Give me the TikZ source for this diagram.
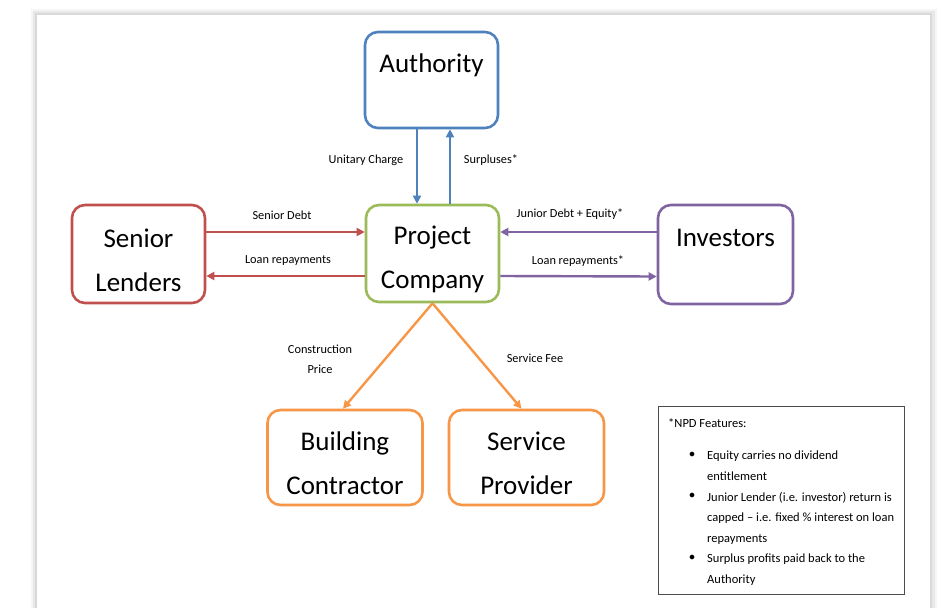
\documentclass[tikz,border=0pt]{standalone}
\usepackage{fontspec}
\setmainfont{Carlito}
\usetikzlibrary{arrows.meta}
\definecolor{cblue}{RGB}{79,129,189}
\definecolor{cred}{RGB}{192,80,77}
\definecolor{cgreen}{RGB}{155,187,89}
\definecolor{cpurple}{RGB}{128,100,162}
\definecolor{corange}{RGB}{247,150,70}
\tikzset{
  box/.style={draw, line width=2.6pt, rounded corners=13pt, fill=white, inner sep=0pt},
  bigtext/.style={inner sep=0pt, align=center, font=\fontsize{27}{44}\selectfont},
  lbl/.style={inner sep=0pt, font=\fontsize{12.3}{20}\selectfont, align=center},
  conn/.style={line width=2.4pt, -{Triangle[length=8pt,width=8pt]}},
  notetext/.style={inner sep=0pt, anchor=north west, align=left, font=\fontsize{12.5}{20.6}\selectfont}
}
\begin{document}
\begin{tikzpicture}[x=1pt,y=-1pt]
\useasboundingbox (0,0) rectangle (942,608);
% page sheet with soft shadow
\fill[white] (0,0) rectangle (942,608);
\fill[gray!8] (31,9) rectangle (937,608);
\fill[gray!18] (33,11) rectangle (935,608);
\fill[gray!30] (35,13) rectangle (932,608);
\fill[white] (37,15) rectangle (930,608);

% boxes
\node[box, draw=cblue, minimum width=133pt, minimum height=96pt] (auth) at (431.5,80) {};
\node[bigtext] (authtxt) at ([yshift=-35pt]auth.north) {Authority};
\node[box, draw=cgreen, minimum width=133pt, minimum height=97pt] (proj) at (432.5,253.5) {};
\node[bigtext] (projtxt) at ([yshift=-6pt]proj.center) {Project\\Company};
\node[box, draw=cred, minimum width=133pt, minimum height=98pt] (sl) at (138.5,254) {};
\node[bigtext] (sltxt) at ([yshift=-6pt]sl.center) {Senior\\Lenders};
\node[box, draw=cpurple, minimum width=135pt, minimum height=99pt] (inv) at (725.5,254.5) {};
\node[bigtext] (invtxt) at ([yshift=-34pt]inv.north) {Investors};
\node[box, draw=corange, minimum width=155pt, minimum height=95pt] (bc) at (345,457.5) {};
\node[bigtext] (bctxt) at ([yshift=-6pt]bc.center) {Building\\Contractor};
\node[box, draw=corange, minimum width=155pt, minimum height=95pt] (sp) at (526.5,457.5) {};
\node[bigtext] (sptxt) at ([yshift=-6pt]sp.center) {Service\\Provider};

% connectors
\draw[conn, cblue] ([xshift=-14.5pt]auth.south) -- ([xshift=-15.5pt]proj.north);
\draw[conn, cblue] ([xshift=17.5pt]proj.north) -- ([xshift=18.5pt]auth.south);
\draw[conn, cred] ([yshift=22pt]sl.east) -- ([yshift=21.5pt]proj.west);
\draw[conn, cred] ([yshift=-22.5pt]proj.west) -- ([yshift=-22pt]sl.east);
\draw[conn, cpurple] ([yshift=22.5pt]inv.west) -- ([yshift=21.5pt]proj.east);
\draw[conn, cpurple] ([yshift=-22.5pt]proj.east) -- ([yshift=-22pt]inv.west);
\draw[conn, corange] (proj.south) -- ([xshift=-2pt]bc.north);
\draw[conn, corange] (proj.south) -- ([xshift=-5pt]sp.north);

% labels
\node[lbl] (l1) at (366,160) {Unitary Charge};
\node[lbl] (l2) at (491,160) {Surpluses*};
\node[lbl] (l3) at (282,215) {Senior Debt};
\node[lbl] (l4) at (288,261) {Loan repayments};
\node[lbl] (l5) at (570,214) {Junior Debt + Equity*};
\node[lbl] (l6) at (578,261) {Loan repayments*};
\node[lbl] (l7) at (320,359) {Construction\\Price};
\node[lbl] (l8) at (535,358) {Service Fee};

% note box
\node[draw=gray!60!black, line width=1pt, minimum width=246pt, minimum height=188pt, inner sep=0pt] (note) at (781,500) {};
\node[notetext] (nh) at (668,418) {*NPD Features:};
\node[notetext] (b1) at (689,452) {$\bullet$};
\node[notetext] (t1) at (707,451) {Equity carries no dividend\\entitlement};
\node[notetext] (b2) at (689,493) {$\bullet$};
\node[notetext] (t2) at (707,492) {Junior Lender (i.e. investor) return is\\capped -- i.e. fixed \% interest on loan\\repayments};
\node[notetext] (b3) at (689,555) {$\bullet$};
\node[notetext] (t3) at (707,554) {Surplus profits paid back to the\\Authority};
\end{tikzpicture}
\end{document}
